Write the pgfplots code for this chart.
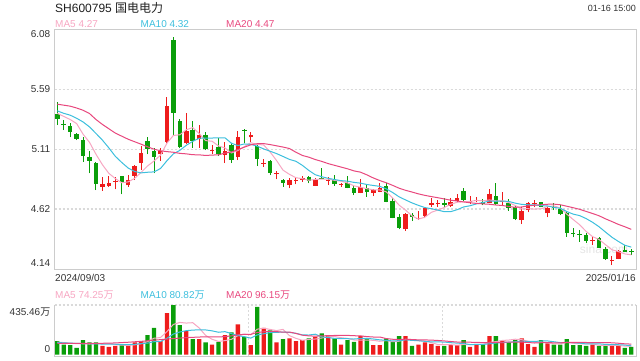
\documentclass[border=0pt]{standalone}
\usepackage{pgfplots}
\pgfplotsset{compat=1.18}
\usepackage{pgfplotstable}
\usepackage{fontspec}
\setmainfont{Liberation Sans}
\newfontfamily\cjk{Noto Sans CJK SC}
\definecolor{upc}{HTML}{EE1C1C}
\definecolor{dnc}{HTML}{0A9E0A}
\definecolor{ma5c}{HTML}{F7A6C2}
\definecolor{ma10c}{HTML}{3DBFDD}
\definecolor{ma20c}{HTML}{E8487E}
\definecolor{framec}{HTML}{CCCCCC}
\definecolor{gridc}{HTML}{DADADA}
\definecolor{txtc}{HTML}{333333}
\definecolor{wmc}{HTML}{E4E4E4}
\newcommand\fT{\fontsize{12pt}{14pt}\selectfont}
\newcommand\fA{\fontsize{10pt}{12pt}\selectfont}
\newcommand\fS{\fontsize{9pt}{11pt}\selectfont}

\pgfplotstableread{
i o h l c v
7 4.806 4.887 4.773 4.828 76
8 4.814 4.895 4.806 4.838 68
9 4.846 4.887 4.785 4.850 76
11 4.816 4.899 4.806 4.862 88
12 4.894 4.981 4.860 4.973 106
13 4.999 5.137 4.940 5.080 118
16 5.069 5.116 5.016 5.094 118
17 5.169 5.533 5.156 5.458 365
20 5.156 5.404 5.148 5.256 206
22 5.191 5.304 5.121 5.224 135
24 5.100 5.142 5.069 5.104 88
26 5.061 5.164 4.997 5.094 170
28 5.048 5.256 5.021 5.205 265
30 5.205 5.245 5.169 5.226 82
32 4.995 5.029 4.967 5.000 235
34 4.915 4.935 4.865 4.920 106
36 4.819 4.873 4.792 4.860 141
37 4.858 4.882 4.825 4.862 118
38 4.860 4.892 4.846 4.879 126
40 4.813 4.873 4.811 4.868 156
42 4.858 4.882 4.819 4.862 170
44 4.820 4.840 4.805 4.825 88
47 4.757 4.868 4.752 4.806 165
49 4.757 4.787 4.730 4.779 82
50 4.765 4.833 4.760 4.792 82
54 4.461 4.593 4.448 4.582 162
56 4.545 4.612 4.540 4.550 88
57 4.568 4.643 4.550 4.630 106
58 4.655 4.711 4.643 4.677 94
59 4.668 4.700 4.643 4.672 76
61 4.653 4.711 4.643 4.679 82
62 4.693 4.744 4.684 4.711 82
64 4.684 4.730 4.664 4.690 68
65 4.695 4.725 4.680 4.700 88
67 4.677 4.784 4.671 4.744 162
69 4.684 4.760 4.658 4.690 118
72 4.536 4.643 4.504 4.609 141
73 4.620 4.684 4.598 4.671 91
74 4.668 4.697 4.638 4.672 68
76 4.591 4.643 4.558 4.630 97
83 4.370 4.401 4.334 4.375 88
86 4.205 4.245 4.172 4.210 82
87 4.221 4.294 4.218 4.288 76
}\uptab

\pgfplotstableread{
i o h l c v
0 5.393 5.492 5.304 5.350 118
1 5.315 5.344 5.264 5.310 88
2 5.296 5.323 5.205 5.250 82
3 5.232 5.242 5.183 5.191 59
4 5.183 5.210 5.008 5.056 126
5 5.043 5.094 4.914 5.016 106
6 4.997 5.008 4.779 4.830 106
10 4.890 4.895 4.744 4.846 88
14 5.175 5.210 5.067 5.108 170
15 5.094 5.116 4.914 5.048 235
18 5.991 6.018 5.223 5.399 435
19 5.337 5.350 5.116 5.130 259
21 5.264 5.337 5.121 5.177 135
23 5.224 5.250 5.102 5.108 106
25 5.129 5.197 5.054 5.069 112
27 5.142 5.156 4.997 5.021 194
29 5.266 5.272 5.156 5.262 156
31 5.135 5.142 4.973 5.027 418
33 5.013 5.021 4.900 4.918 212
35 4.860 4.868 4.806 4.833 135
39 4.887 4.892 4.833 4.854 141
41 4.880 4.961 4.865 4.876 185
43 4.857 4.900 4.813 4.825 141
45 4.833 4.892 4.792 4.797 126
46 4.792 4.811 4.738 4.757 112
48 4.792 4.819 4.725 4.765 141
51 4.811 4.833 4.679 4.684 141
52 4.690 4.717 4.550 4.555 118
53 4.558 4.585 4.461 4.473 162
55 4.580 4.590 4.528 4.558 76
60 4.677 4.711 4.638 4.660 76
63 4.770 4.792 4.693 4.697 126
66 4.684 4.703 4.655 4.664 88
68 4.730 4.833 4.658 4.664 162
70 4.671 4.703 4.612 4.630 106
71 4.638 4.649 4.536 4.541 126
75 4.679 4.684 4.638 4.644 126
77 4.640 4.677 4.617 4.636 88
78 4.625 4.657 4.577 4.582 88
79 4.590 4.604 4.401 4.428 135
80 4.430 4.469 4.395 4.426 82
81 4.422 4.455 4.360 4.418 82
82 4.418 4.428 4.347 4.364 76
84 4.387 4.395 4.307 4.312 76
85 4.302 4.320 4.213 4.218 76
88 4.294 4.334 4.274 4.280 59
89 4.282 4.302 4.253 4.278 68
}\dntab

\pgfplotstableread{
i m5 m10 m20 v5 v10 v20
0 5.400 5.420 5.474 110 105 98
1 5.375 5.400 5.466 105 103 98
2 5.350 5.385 5.458 100 100 98
3 5.317 5.360 5.443 96 98 97
4 5.231 5.330 5.425 94.6 96 97
5 5.165 5.290 5.398 92.2 95 97
6 5.069 5.237 5.350 95.8 94 98
7 4.984 5.183 5.310 94.6 92 99
8 4.914 5.120 5.275 96.4 91 100
9 4.872 5.052 5.240 86.4 90.5 102
10 4.838 5.002 5.215 82.8 87.5 105
11 4.845 4.957 5.190 79.2 87.5 108
12 4.874 4.929 5.170 85.2 89.9 112
13 4.922 4.918 5.150 95.2 95.8 116
14 4.974 4.923 5.129 114 100.2 121
15 5.014 4.926 5.110 143.4 113.1 126
16 5.061 4.953 5.097 149.4 114.3 131
17 5.158 5.016 5.090 201.2 143.2 136
18 5.221 5.072 5.085 264.6 179.9 140
19 5.226 5.100 5.076 282.4 198.2 144.4
20 5.267 5.141 5.072 276.6 210 148.8
21 5.284 5.173 5.065 280 214.7 151.1
22 5.237 5.198 5.064 234 217.6 153.8
23 5.179 5.200 5.059 168.2 216.4 156.1
24 5.174 5.200 5.062 134 208.2 154.2
25 5.136 5.202 5.064 115.2 195.9 154.5
26 5.120 5.202 5.078 122.2 201.1 157.7
27 5.079 5.158 5.087 134 184 163.6
28 5.099 5.139 5.106 165.8 167 173.5
29 5.130 5.152 5.126 179.4 156.7 177.5
30 5.162 5.149 5.145 173.4 144.3 177.2
31 5.148 5.134 5.154 223 172.6 193.7
32 5.144 5.112 5.155 231.2 182.6 200.1
33 5.087 5.093 5.147 220.6 193.2 204.8
34 5.018 5.074 5.137 210.6 195 201.6
35 4.940 5.051 5.127 221.2 197.3 196.6
36 4.906 5.027 5.115 165.8 194.4 197.8
37 4.879 5.012 5.085 142.4 186.8 185.4
38 4.871 4.979 5.059 125.2 172.9 170
39 4.858 4.938 5.045 132.2 171.4 164.1
40 4.865 4.903 5.026 136.4 178.8 161.6
41 4.868 4.887 5.011 145.2 155.5 164.1
42 4.868 4.874 4.993 155.6 149 165.8
43 4.857 4.864 4.979 158.6 141.9 167.6
44 4.851 4.855 4.965 148 140.1 167.6
45 4.837 4.851 4.951 142 139.2 168.3
46 4.813 4.841 4.934 127.4 136.3 165.4
47 4.802 4.835 4.924 126.4 141 163.9
48 4.790 4.824 4.902 126.4 142.5 157.7
49 4.781 4.816 4.877 125.2 136.6 154
50 4.780 4.809 4.856 116.4 129.2 154
51 4.765 4.789 4.838 122.2 124.8 140.2
52 4.715 4.759 4.817 112.8 119.6 134.3
53 4.657 4.724 4.794 117 121.7 131.8
54 4.617 4.699 4.777 133 129.1 134.6
55 4.570 4.675 4.763 131.8 124.1 131.7
56 4.544 4.655 4.748 121.2 121.7 129
57 4.559 4.637 4.736 118.8 115.8 128.4
58 4.599 4.628 4.726 105.2 111.1 126.8
59 4.617 4.617 4.717 88 110.5 123.6
60 4.638 4.604 4.707 88 109.9 119.6
61 4.664 4.604 4.697 86.8 104 114.4
62 4.680 4.620 4.690 82 100.4 110
63 4.684 4.642 4.683 88.4 96.8 109.3
64 4.687 4.652 4.676 86.8 87.4 108.3
65 4.695 4.667 4.671 89.2 88.6 106.4
66 4.692 4.678 4.667 90.4 88.6 105.2
67 4.699 4.690 4.664 106.4 94.2 105
68 4.692 4.688 4.658 113.6 101 106.1
69 4.692 4.690 4.654 123.6 105.2 107.9
70 4.678 4.687 4.646 127.2 108.2 109.1
71 4.654 4.673 4.639 134.8 112.6 108.3
72 4.627 4.663 4.642 130.6 118.5 109.5
73 4.628 4.660 4.651 116.4 115 105.9
74 4.625 4.659 4.656 106.4 115 101.2
75 4.627 4.653 4.660 110.4 118.8 103.7
76 4.645 4.650 4.664 104.6 119.7 104.2
77 4.651 4.639 4.665 94 112.3 103.3
78 4.633 4.631 4.660 93.4 104.9 103
79 4.584 4.605 4.648 106.8 106.6 105.9
80 4.540 4.584 4.636 98 104.2 106.2
81 4.498 4.572 4.623 95 99.8 106.2
82 4.444 4.548 4.606 92.6 93.3 105.9
83 4.402 4.518 4.589 92.6 93 104
84 4.379 4.482 4.571 80.8 93.8 104.4
85 4.337 4.439 4.546 79.6 88.8 103.8
86 4.296 4.397 4.524 79.6 87.3 103.5
87 4.281 4.363 4.501 79.6 86.1 99.2
88 4.262 4.332 4.482 73.8 83.2 94.1
89 4.255 4.317 4.461 72.2 76.5 91.6
}\matab

\begin{document}
\begin{tikzpicture}
\useasboundingbox (0pt,0pt) rectangle (640pt,360pt);
% watermark
\node[font=\fT, text=wmc, inner sep=0pt] at (604pt,111pt) {sina.com};

% ---------- price panel ----------
\begin{axis}[at={(54.5pt,91pt)}, anchor=south west, scale only axis,
  width=581.5pt, height=239.7pt,
  xmin=-0.43, xmax=89.73, ymin=4.14, ymax=6.08,
  axis line style={draw=framec, line width=0.9pt},
  xtick=\empty, ytick={4.625,5.11,5.595}, yticklabels={},
  tick style={draw=none},
  ymajorgrids, major grid style={draw=gridc, line width=1.3pt, dash pattern=on 2pt off 2pt}]
% wicks
\addplot[upc, line width=1pt, mark=none, quiver={u=0, v=\thisrow{h}-\thisrow{l}}] table[x=i, y=l] {\uptab};
\addplot[dnc, line width=1pt, mark=none, quiver={u=0, v=\thisrow{h}-\thisrow{l}}] table[x=i, y=l] {\dntab};
% bodies
\addplot[upc, line width=4.5pt, mark=none, quiver={u=0, v=\thisrow{c}-\thisrow{o}}] table[x=i, y=o] {\uptab};
\addplot[dnc, line width=4.5pt, mark=none, quiver={u=0, v=\thisrow{c}-\thisrow{o}}] table[x=i, y=o] {\dntab};
% moving averages
\addplot[ma5c, line width=1pt, mark=none] table[x=i, y=m5] {\matab};
\addplot[ma10c, line width=1pt, mark=none] table[x=i, y=m10] {\matab};
\addplot[ma20c, line width=1pt, mark=none] table[x=i, y=m20] {\matab};
\end{axis}

% ---------- volume panel ----------
\begin{axis}[at={(54.5pt,4pt)}, anchor=south west, scale only axis,
  width=581.5pt, height=51pt,
  xmin=-0.43, xmax=89.73, ymin=-13, ymax=435.46,
  hide axis, clip=false]
\draw[gridc, line width=1.3pt, dash pattern=on 2pt off 2pt] (rel axis cs:0,1) -- (rel axis cs:1,1);
\draw[gridc, line width=1pt, dash pattern=on 2pt off 2pt] (rel axis cs:0.3333,0) -- (rel axis cs:0.3333,1);
\draw[gridc, line width=1pt, dash pattern=on 2pt off 2pt] (rel axis cs:0.6667,0) -- (rel axis cs:0.6667,1);
\draw[framec, line width=0.9pt] (rel axis cs:0,1) -- (rel axis cs:0,0) -- (rel axis cs:1,0) -- (rel axis cs:1,1);
\addplot[ybar, bar width=4.3pt, bar shift=0pt, fill=upc, draw=none] table[x=i, y=v] {\uptab};
\addplot[ybar, bar width=4.3pt, bar shift=0pt, fill=dnc, draw=none] table[x=i, y=v] {\dntab};
\addplot[ma5c, line width=1pt, mark=none] table[x=i, y=v5] {\matab};
\addplot[ma10c, line width=1pt, mark=none] table[x=i, y=v10] {\matab};
\addplot[ma20c, line width=1pt, mark=none] table[x=i, y=v20] {\matab};
\end{axis}

% ---------- texts ----------
\node[anchor=west, font=\fT, text=black!88, inner sep=0pt] at (55pt,352.5pt) {SH600795 {\cjk 国电电力}};
\node[anchor=east, font=\fS, text=txtc, inner sep=0pt] at (636pt,351.5pt) {01-16 15:00};
\node[anchor=west, font=\fA, text=ma5c, inner sep=0pt] at (55pt,336pt) {MA5 4.27};
\node[anchor=west, font=\fA, text=ma10c, inner sep=0pt] at (140.5pt,336pt) {MA10 4.32};
\node[anchor=west, font=\fA, text=ma20c, inner sep=0pt] at (226pt,336pt) {MA20 4.47};
\node[anchor=east, font=\fA, text=txtc, inner sep=0pt] at (50.5pt,326.3pt) {6.08};
\node[anchor=east, font=\fA, text=txtc, inner sep=0pt] at (50.5pt,271pt) {5.59};
\node[anchor=east, font=\fA, text=txtc, inner sep=0pt] at (50.5pt,211pt) {5.11};
\node[anchor=east, font=\fA, text=txtc, inner sep=0pt] at (50.5pt,151pt) {4.62};
\node[anchor=east, font=\fA, text=txtc, inner sep=0pt] at (50.5pt,97pt) {4.14};
\node[anchor=west, font=\fA, text=txtc, inner sep=0pt] at (55pt,82pt) {2024/09/03};
\node[anchor=east, font=\fA, text=txtc, inner sep=0pt] at (636pt,82pt) {2025/01/16};
\node[anchor=west, font=\fA, text=ma5c, inner sep=0pt] at (55pt,65pt) {MA5 74.25{\cjk 万}};
\node[anchor=west, font=\fA, text=ma10c, inner sep=0pt] at (140.5pt,65pt) {MA10 80.82{\cjk 万}};
\node[anchor=west, font=\fA, text=ma20c, inner sep=0pt] at (226pt,65pt) {MA20 96.15{\cjk 万}};
\node[anchor=east, font=\fA, text=txtc, inner sep=0pt] at (50.5pt,48pt) {435.46{\cjk 万}};
\node[anchor=east, font=\fA, text=txtc, inner sep=0pt] at (50.5pt,11pt) {0};
\end{tikzpicture}
\end{document}
